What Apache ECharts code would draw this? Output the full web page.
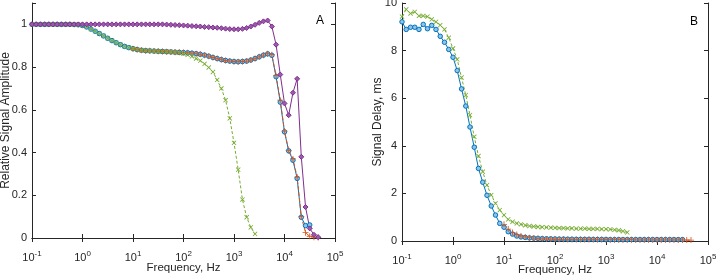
<!DOCTYPE html>
<html>
<head>
<meta charset="utf-8">
<script src="https://cdn.jsdelivr.net/npm/echarts@6/dist/echarts.min.js"></script>
<style>
  html, body { margin: 0; padding: 0; background: #fff; }
  #chart { width: 716px; height: 277px; }
</style>
</head>
<body>
<div id="chart"></div>
<script>
// sample frequencies (Hz), shared by all curves
var freq = [0.1, 0.121, 0.147, 0.178, 0.215, 0.261, 0.316, 0.383, 0.464, 0.562, 0.681, 0.825,
  1, 1.21, 1.47, 1.78, 2.15, 2.61, 3.16, 3.83, 4.64, 5.62, 6.81, 8.25,
  10, 12.1, 14.7, 17.8, 21.5, 26.1, 31.6, 38.3, 46.4, 56.2, 68.1, 82.5,
  100, 121, 147, 178, 215, 261, 316, 383, 464, 562, 681, 825,
  1000, 1210, 1470, 1780, 2150, 2610, 3160, 3830, 4640, 5620, 6810, 8250,
  10000, 12100, 14700, 17800, 21500, 26100, 31600, 38300, 46400];

// panel A : relative amplitude (first value sits at freq[start])
var ampBlueStart = 0;
var ampBlue = [1, 1, 1, 1, 1, 1, 1, 1, 1, 1, 0.999, 0.998,
  0.995, 0.988, 0.978, 0.968, 0.957, 0.946, 0.935, 0.924, 0.914, 0.905, 0.897, 0.891,
  0.886, 0.882, 0.879, 0.877, 0.876, 0.875, 0.874, 0.873, 0.872, 0.871, 0.870, 0.869,
  0.868, 0.867, 0.865, 0.863, 0.860, 0.856, 0.851, 0.845, 0.840, 0.835, 0.831, 0.828,
  0.826, 0.825, 0.826, 0.828, 0.833, 0.840, 0.848, 0.856, 0.862, 0.855, 0.755, 0.636,
  0.497, 0.408, 0.364, 0.279, 0.097, 0.058, 0.061];
var ampOrangeStart = 24;
var ampOrange = [0.886, 0.882, 0.879, 0.877, 0.876, 0.875, 0.874, 0.873, 0.872, 0.871, 0.870, 0.869,
  0.868, 0.867, 0.865, 0.863, 0.860, 0.856, 0.851, 0.845, 0.840, 0.835, 0.831, 0.828,
  0.826, 0.825, 0.826, 0.828, 0.833, 0.840, 0.848, 0.856, 0.863, 0.858, 0.760, 0.645,
  0.500, 0.410, 0.370, 0.285, 0.100, 0.025, 0.008, 0.004, 0.002];
var ampGreenStart = 0;
var ampGreen = [1, 1, 1, 1, 1, 1, 1, 1, 1, 1, 0.999, 0.998,
  0.995, 0.988, 0.978, 0.968, 0.957, 0.946, 0.935, 0.924, 0.914, 0.905, 0.897, 0.891,
  0.886, 0.882, 0.879, 0.877, 0.876, 0.875, 0.874, 0.873, 0.872, 0.871, 0.869, 0.867,
  0.862, 0.857, 0.850, 0.840, 0.830, 0.815, 0.798, 0.777, 0.740, 0.700, 0.645, 0.560,
  0.445, 0.320, 0.180, 0.097, 0.050, 0.019];
var ampPurpleStart = 0;
var ampPurple = [1, 1, 1, 1, 1, 1, 1, 1, 1, 1, 1, 1,
  1, 1, 1, 1, 1, 1, 1, 1, 1, 1, 1, 1,
  1, 1, 1, 1, 1, 1, 1, 1, 0.999, 0.998, 0.997, 0.996,
  0.995, 0.994, 0.992, 0.991, 0.990, 0.988, 0.987, 0.985, 0.984, 0.982, 0.980, 0.978,
  0.977, 0.977, 0.979, 0.983, 0.990, 0.998, 1.007, 1.014, 1.018, 0.990, 0.905, 0.765,
  0.630, 0.575, 0.680, 0.745, 0.380, 0.145, 0.045, 0.015, 0.004];

// panel B : signal delay, ms
var delayBlueStart = 0;
var delayBlue = [9.21, 8.89, 8.98, 8.98, 8.89, 9.10, 8.92, 9.06, 8.89, 8.60, 8.35, 8.05,
  7.72, 7.16, 6.39, 5.67, 4.79, 3.94, 3.05, 2.47, 1.92, 1.47, 1.09, 0.74,
  0.58, 0.39, 0.29, 0.21, 0.17, 0.15, 0.13, 0.12, 0.11, 0.10, 0.095, 0.09,
  0.085, 0.08, 0.08, 0.075, 0.075, 0.07, 0.07, 0.07, 0.07, 0.065, 0.065, 0.065,
  0.065, 0.06, 0.06, 0.06, 0.06, 0.06, 0.06, 0.06, 0.06, 0.06, 0.06, 0.06,
  0.06, 0.06, 0.06, 0.06, 0.06, 0.06, 0.06];
var delayOrangeStart = 24;
var delayOrange = [0.70, 0.50, 0.36, 0.27, 0.21, 0.17, 0.14, 0.12, 0.10, 0.09, 0.085, 0.08,
  0.075, 0.07, 0.07, 0.065, 0.065, 0.065, 0.06, 0.06, 0.06, 0.06, 0.06, 0.06,
  0.055, 0.055, 0.055, 0.055, 0.055, 0.055, 0.055, 0.05, 0.05, 0.05, 0.05, 0.05,
  0.05, 0.05, 0.05, 0.05, 0.05, 0.045, 0.045, 0.04, 0.04];
var delayGreenStart = 0;
var delayGreen = [9.43, 9.73, 9.56, 9.63, 9.46, 9.46, 9.43, 9.31, 9.21, 9.07, 8.89, 8.54,
  8.09, 7.63, 6.87, 6.13, 5.29, 4.38, 3.57, 2.91, 2.35, 1.93, 1.58, 1.30,
  1.09, 0.91, 0.81, 0.74, 0.70, 0.66, 0.63, 0.61, 0.59, 0.58, 0.57, 0.56,
  0.55, 0.54, 0.54, 0.53, 0.53, 0.52, 0.52, 0.52, 0.51, 0.51, 0.51, 0.50,
  0.50, 0.49, 0.47, 0.45, 0.41, 0.36];

function pairs(start, vals) {
  return vals.map(function(v, i) { return [freq[start + i], v]; });
}

var txt = '#262626';
var fnt = 'Liberation Sans, Arial, sans-serif';
var plusPath = 'path://M4.3,0H5.7V4.3H10V5.7H5.7V10H4.3V5.7H0V4.3H4.3Z';

function logAxis(grid, pos, labels, gap) {
  return {
    type: 'log', logBase: 10, min: 0.1, max: 100000, interval: 1,
    gridIndex: grid, position: pos,
    name: labels ? 'Frequency, Hz' : '', nameLocation: 'middle', nameGap: gap,
    nameMoveOverlap: false,
    nameTextStyle: { color: txt, fontSize: 11.5, fontFamily: fnt },
    axisLine: { show: true, lineStyle: { color: txt, width: 1 } },
    axisTick: { show: true, inside: true, length: 4, lineStyle: { color: txt } },
    minorTick: { show: false },
    splitLine: { show: false },
    axisLabel: {
      show: labels, color: txt, fontSize: 11, fontFamily: fnt, margin: 12,
      formatter: function(v) {
        var e = Math.round(Math.log(v) / Math.LN10);
        return '10{sup|' + e + '}';
      },
      rich: { sup: { fontSize: 8, color: txt, fontFamily: fnt, padding: [0, 0, 8, 0] } }
    }
  };
}

function valAxis(grid, pos, max, step, name, labels, gap) {
  return {
    type: 'value', min: 0, max: max, interval: step,
    gridIndex: grid, position: pos,
    name: labels ? name : '', nameLocation: 'middle', nameGap: gap,
    nameMoveOverlap: false,
    nameTextStyle: { color: txt, fontSize: 12, fontFamily: fnt },
    axisLine: { show: true, lineStyle: { color: txt, width: 1 } },
    axisTick: { show: true, inside: true, length: 4, lineStyle: { color: txt } },
    splitLine: { show: false },
    axisLabel: {
      show: labels, color: txt, fontSize: 11, fontFamily: fnt, margin: 5,
      formatter: function(v) { return v > max - 1e-9 && max === 1.1 ? '' : String(v); }
    }
  };
}

function line(name, x, y, data, color, dash, symbol, size, fill, rotate) {
  return {
    name: name, type: 'line', xAxisIndex: x, yAxisIndex: y, data: data,
    showSymbol: true, symbol: symbol, symbolSize: size, symbolRotate: rotate || 0,
    lineStyle: { color: color, width: 1, type: dash },
    itemStyle: { color: fill, borderColor: color, borderWidth: symbol === 'circle' || symbol === 'diamond' ? 1 : 0 },
    emphasis: { disabled: true }, animation: false, z: 3
  };
}

var myChart = echarts.init(document.getElementById('chart'), null, { renderer: 'canvas' });

var option = {
  animation: false,
  textStyle: { fontFamily: fnt, color: txt },
  grid: [
    { left: 32, right: 381, top: 3, bottom: 39, containLabel: false, outerBoundsMode: 'none' },
    { left: 402, right: 8, top: 3, bottom: 36, containLabel: false, outerBoundsMode: 'none' }
  ],
  xAxis: [
    logAxis(0, 'bottom', true, 24),
    logAxis(0, 'top', false, 0),
    logAxis(1, 'bottom', true, 23),
    logAxis(1, 'top', false, 0)
  ],
  yAxis: [
    valAxis(0, 'left', 1.1, 0.2, 'Relative Signal Amplitude', true, 20),
    valAxis(0, 'right', 1.1, 0.2, '', false, 0),
    valAxis(1, 'left', 10, 2, 'Signal Delay, ms', true, 18),
    valAxis(1, 'right', 10, 2, '', false, 0)
  ],
  series: [
    line('blueA', 0, 0, pairs(ampBlueStart, ampBlue), '#0072BD', 'solid', 'circle', 4.5, '#8fc3e8'),
    line('orangeA', 0, 0, pairs(ampOrangeStart, ampOrange), '#D95319', [4, 2], plusPath, 6, '#D95319'),
    line('greenA', 0, 0, pairs(ampGreenStart, ampGreen), '#77AC30', [3, 2], plusPath, 6, '#77AC30', 45),
    line('purpleA', 0, 0, pairs(ampPurpleStart, ampPurple), '#7E2F8E', 'solid', 'diamond', 5, '#9b5aab'),
    line('blueB', 2, 2, pairs(delayBlueStart, delayBlue), '#0072BD', 'solid', 'circle', 4.5, '#8fc3e8'),
    line('greenB', 2, 2, pairs(delayGreenStart, delayGreen), '#77AC30', [3, 2], plusPath, 6, '#77AC30', 45),
    line('orangeB', 2, 2, pairs(delayOrangeStart, delayOrange), '#D95319', [4, 2], plusPath, 6, '#D95319')
  ],
  graphic: [
    { type: 'text', left: 316, top: 15, style: { text: 'A', fontSize: 12, fontFamily: fnt, fill: '#000' } },
    { type: 'text', left: 690, top: 16, style: { text: 'B', fontSize: 12, fontFamily: fnt, fill: '#000' } }
  ]
};

myChart.setOption(option);

window.addEventListener('resize', function() {
  myChart.resize();
});
</script>
</body>
</html>
